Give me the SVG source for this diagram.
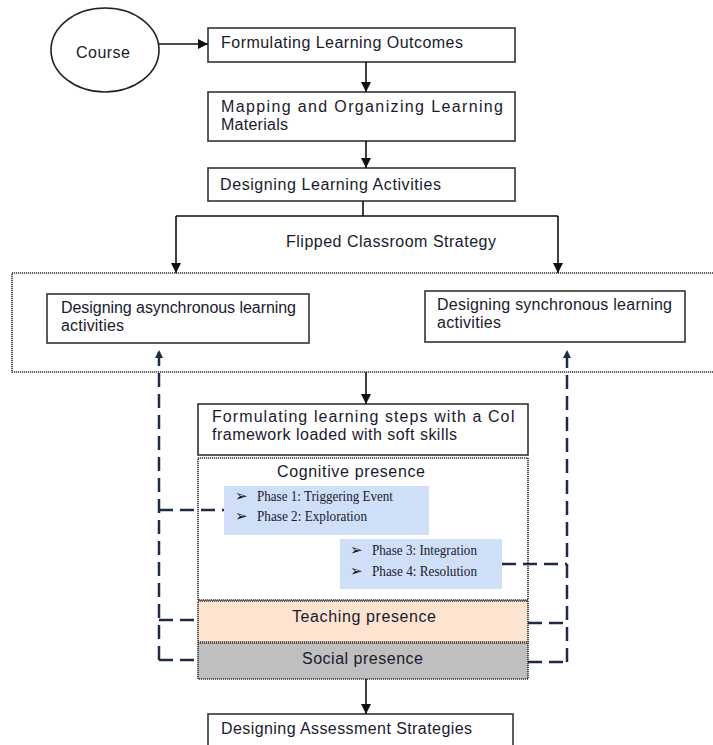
<svg xmlns="http://www.w3.org/2000/svg" width="713" height="745" viewBox="0 0 713 745">
<style>
.box{fill:#fff;stroke:#333;stroke-width:1.6}
.dot{stroke:#333;stroke-width:1.6;stroke-dasharray:1.2 0.8}
.t{font-family:"Liberation Sans",Arial,sans-serif;font-size:16px;fill:#1a1a2e}
.p{font-family:"Liberation Serif","Times New Roman",serif;font-size:14.5px;fill:#1a1a2e}
.b{font-family:"DejaVu Sans",sans-serif;font-size:15px;font-weight:bold;fill:#111}
.ln{fill:none;stroke:#111;stroke-width:1.6}
.dl{fill:none;stroke:#1f2a44;stroke-width:2.5;stroke-dasharray:14 7}
</style>
<defs>
<marker id="ah" viewBox="0 0 10 10" refX="10" refY="5" markerWidth="10" markerHeight="10" markerUnits="userSpaceOnUse" orient="auto">
<path d="M0,0 L10,5 L0,10 z" fill="#111"/>
</marker>
<marker id="ahd" viewBox="0 0 10 10" refX="10" refY="5" markerWidth="8" markerHeight="8" markerUnits="userSpaceOnUse" orient="auto">
<path d="M0,0 L10,5 L0,10 z" fill="#1f2a44"/>
</marker>
</defs>

<g id="flipped-container">
<rect x="12" y="273" width="710" height="99" fill="none" class="dot"/>
<text class="t" x="286" y="247" textLength="210">Flipped Classroom Strategy</text>
</g>

<g id="course">
<ellipse cx="105" cy="50" rx="54" ry="42" fill="#fff" stroke="#222" stroke-width="1.6"/>
<text class="t" x="76" y="58" textLength="54">Course</text>
</g>

<g id="outcomes">
<rect class="box" x="208" y="28" width="307" height="34"/>
<text class="t" x="221" y="48" textLength="242">Formulating Learning Outcomes</text>
</g>

<g id="mapping">
<rect class="box" x="208" y="92" width="307" height="49"/>
<text class="t" x="221" y="112" textLength="282">Mapping and Organizing Learning</text>
<text class="t" x="221" y="130" textLength="67">Materials</text>
</g>

<g id="activities">
<rect class="box" x="208" y="168" width="307" height="33"/>
<text class="t" x="220" y="190" textLength="221">Designing Learning Activities</text>
</g>

<g id="async">
<rect class="box" x="47" y="294" width="262" height="49"/>
<text class="t" x="61" y="313" textLength="235">Designing asynchronous learning</text>
<text class="t" x="61" y="331" textLength="63">activities</text>
</g>

<g id="sync">
<rect class="box" x="425" y="291" width="260" height="51"/>
<text class="t" x="437" y="310" textLength="235">Designing synchronous learning</text>
<text class="t" x="437" y="328" textLength="64">activities</text>
</g>

<g id="coi">
<rect class="box" x="198" y="404" width="330" height="51"/>
<text class="t" x="212" y="422" textLength="303">Formulating learning steps with a CoI</text>
<text class="t" x="212" y="440" textLength="245">framework loaded with soft skills</text>
</g>

<g id="cognitive">
<rect x="198" y="458" width="330" height="142" fill="#fff" class="dot"/>
<text class="t" x="277" y="477" textLength="148">Cognitive presence</text>
</g>

<g id="phase12">
<rect x="224" y="486" width="205" height="49" fill="#cfdff8"/>
<text class="b" x="235" y="501">➢</text>
<text class="p" x="257" y="501" textLength="136" lengthAdjust="spacingAndGlyphs">Phase 1: Triggering Event</text>
<text class="b" x="235" y="521">➢</text>
<text class="p" x="257" y="521" textLength="110" lengthAdjust="spacingAndGlyphs">Phase 2: Exploration</text>
</g>

<g id="phase34">
<rect x="340" y="539" width="162" height="50" fill="#cfdff8"/>
<text class="b" x="350" y="555">➢</text>
<text class="p" x="372" y="555" textLength="105" lengthAdjust="spacingAndGlyphs">Phase 3: Integration</text>
<text class="b" x="350" y="576">➢</text>
<text class="p" x="372" y="576" textLength="105" lengthAdjust="spacingAndGlyphs">Phase 4: Resolution</text>
</g>

<g id="teaching">
<rect x="198" y="601" width="330" height="41" fill="#fde4d0" class="dot"/>
<text class="t" x="292" y="622" textLength="144">Teaching presence</text>
</g>

<g id="social">
<rect x="198" y="643" width="330" height="36" fill="#bfbfbf" class="dot"/>
<text class="t" x="302" y="664" textLength="121">Social presence</text>
</g>

<g id="assessment">
<rect class="box" x="208" y="714" width="305" height="40"/>
<text class="t" x="221" y="734" textLength="251">Designing Assessment Strategies</text>
</g>

<g id="connectors">
<path class="ln" d="M159,44 H208" stroke-width="2.4" marker-end="url(#ah)"/>
<path class="ln" d="M366,62 V92" marker-end="url(#ah)"/>
<path class="ln" d="M366,141 V168" marker-end="url(#ah)"/>
<path class="ln" d="M363,201 V216 M176,216 H558"/>
<path class="ln" d="M176,216 V273" marker-end="url(#ah)"/>
<path class="ln" d="M558,216 V273" marker-end="url(#ah)"/>
<path class="ln" d="M366,372 V404" marker-end="url(#ah)"/>
<path class="ln" d="M366,679 V714" stroke-width="2" marker-end="url(#ah)"/>

<path class="dl" d="M159,660 V350" marker-end="url(#ahd)"/>
<path class="dl" d="M159,510 H224"/>
<path class="dl" d="M159,620 H198"/>
<path class="dl" d="M159,660 H198"/>
<path class="dl" d="M567,662 V350" marker-end="url(#ahd)"/>
<path class="dl" d="M502,564 H567"/>
<path class="dl" d="M528,623 H567"/>
<path class="dl" d="M528,662 H567"/>
</g>
</svg>
